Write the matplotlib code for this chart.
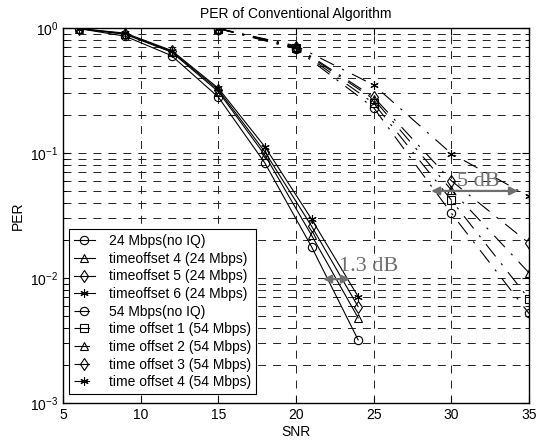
import matplotlib
matplotlib.use("Agg")
import matplotlib.pyplot as plt

plt.rcParams['font.family'] = ['Liberation Sans', 'DejaVu Sans']

# 24 Mbps curves
snr24 = [6, 9, 12, 15, 18, 21, 24]
per24_noiq = [0.99, 0.86, 0.60, 0.28, 0.083, 0.0178, 0.0032]
per24_to4 = [0.99, 0.89, 0.64, 0.31, 0.096, 0.022, 0.0048]
per24_to5 = [0.99, 0.90, 0.65, 0.32, 0.102, 0.026, 0.0059]
per24_to6 = [0.99, 0.91, 0.66, 0.33, 0.112, 0.0296, 0.0071]

# 54 Mbps curves
snr54 = [15, 20, 25, 30, 35]
per54_noiq = [0.99, 0.68, 0.23, 0.033, 0.0052]
per54_to1 = [0.99, 0.69, 0.25, 0.042, 0.0068]
per54_to2 = [0.99, 0.70, 0.27, 0.0506, 0.011]
per54_to3 = [0.99, 0.71, 0.28, 0.060, 0.019]
per54_to4 = [0.99, 0.72, 0.35, 0.099, 0.045]

labels = ['24 Mbps(no IQ)', 'timeoffset 4 (24 Mbps)', 'timeoffset 5 (24 Mbps)',
          'timeoffset 6 (24 Mbps)', '54 Mbps(no IQ)', 'time offset 1 (54 Mbps)',
          'time offset 2 (54 Mbps)', 'time offset 3 (54 Mbps)', 'time offset 4 (54 Mbps)']

fig = plt.figure(figsize=(5.42, 4.40), dpi=100)
ax = fig.add_axes([0.1162, 0.0841, 0.8598, 0.8523])

star = (6, 2, 0)
mk = dict(color='black', lw=0.8, markersize=6, markerfacecolor='none',
          markeredgewidth=0.8)
ax.semilogy(snr24, per24_noiq, '-o', label=labels[0], **mk)
ax.semilogy(snr24, per24_to4, '-^', label=labels[1], **mk)
ax.semilogy(snr24, per24_to5, '-d', label=labels[2], **mk)
ax.semilogy(snr24, per24_to6, '-', marker=star, label=labels[3], **mk)

dd = (0, (14, 8, 2, 8))
ax.semilogy(snr54, per54_noiq, marker='o', linestyle=dd, label=labels[4], **mk)
ax.semilogy(snr54, per54_to1, marker='s', linestyle=dd, label=labels[5], **mk)
ax.semilogy(snr54, per54_to2, marker='^', linestyle=dd, label=labels[6], **mk)
ax.semilogy(snr54, per54_to3, marker='d', linestyle=dd, label=labels[7], **mk)
ax.semilogy(snr54, per54_to4, marker=star, linestyle=dd, label=labels[8], **mk)

ax.set_xlim(5, 35)
ax.set_ylim(1e-3, 1)
ax.set_xticks([5, 10, 15, 20, 25, 30, 35])
gl = (0, (8.2, 7.2))
ax.grid(True, which='major', axis='x', linestyle=gl, color='#222222', lw=0.7)
ax.grid(True, which='both', axis='y', linestyle=gl, color='#222222', lw=0.7)
ax.tick_params(which='both', direction='in', top=True, right=True, labelsize=10)
ax.tick_params(which='major', length=5)
ax.tick_params(which='minor', length=3)
for s in ax.spines.values():
    s.set_linewidth(1.0)

ax.set_title('PER of Conventional Algorithm', fontsize=10, pad=7)
ax.set_xlabel('SNR', fontsize=10, labelpad=2)
ax.set_ylabel('PER', fontsize=10, labelpad=4)

# annotations
gray = '#6e6e6e'
ap = dict(arrowstyle='<|-|>', color=gray, lw=1.6, mutation_scale=12,
          shrinkA=0, shrinkB=0)
ax.annotate('', xy=(21.74, 0.0098), xytext=(23.48, 0.0098), arrowprops=ap)
ax.text(22.8, 0.0123, '1.3 dB', family='Liberation Serif', fontsize=16,
        color=gray, va='center', ha='left')
ax.annotate('', xy=(28.7, 0.0497), xytext=(34.3, 0.0497), arrowprops=ap)
ax.text(30.35, 0.0590, '5 dB', family='Liberation Serif', fontsize=16,
        color=gray, va='center', ha='left')

leg = ax.legend(loc='lower left', bbox_to_anchor=(0.013, 0.024), fontsize=10,
                handlelength=1.5, labelspacing=0.26, borderpad=0.35,
                handletextpad=1.0, fancybox=False, framealpha=1,
                edgecolor='black', borderaxespad=0)
leg.get_frame().set_linewidth(0.8)

fig.savefig('out.png', dpi=100)
